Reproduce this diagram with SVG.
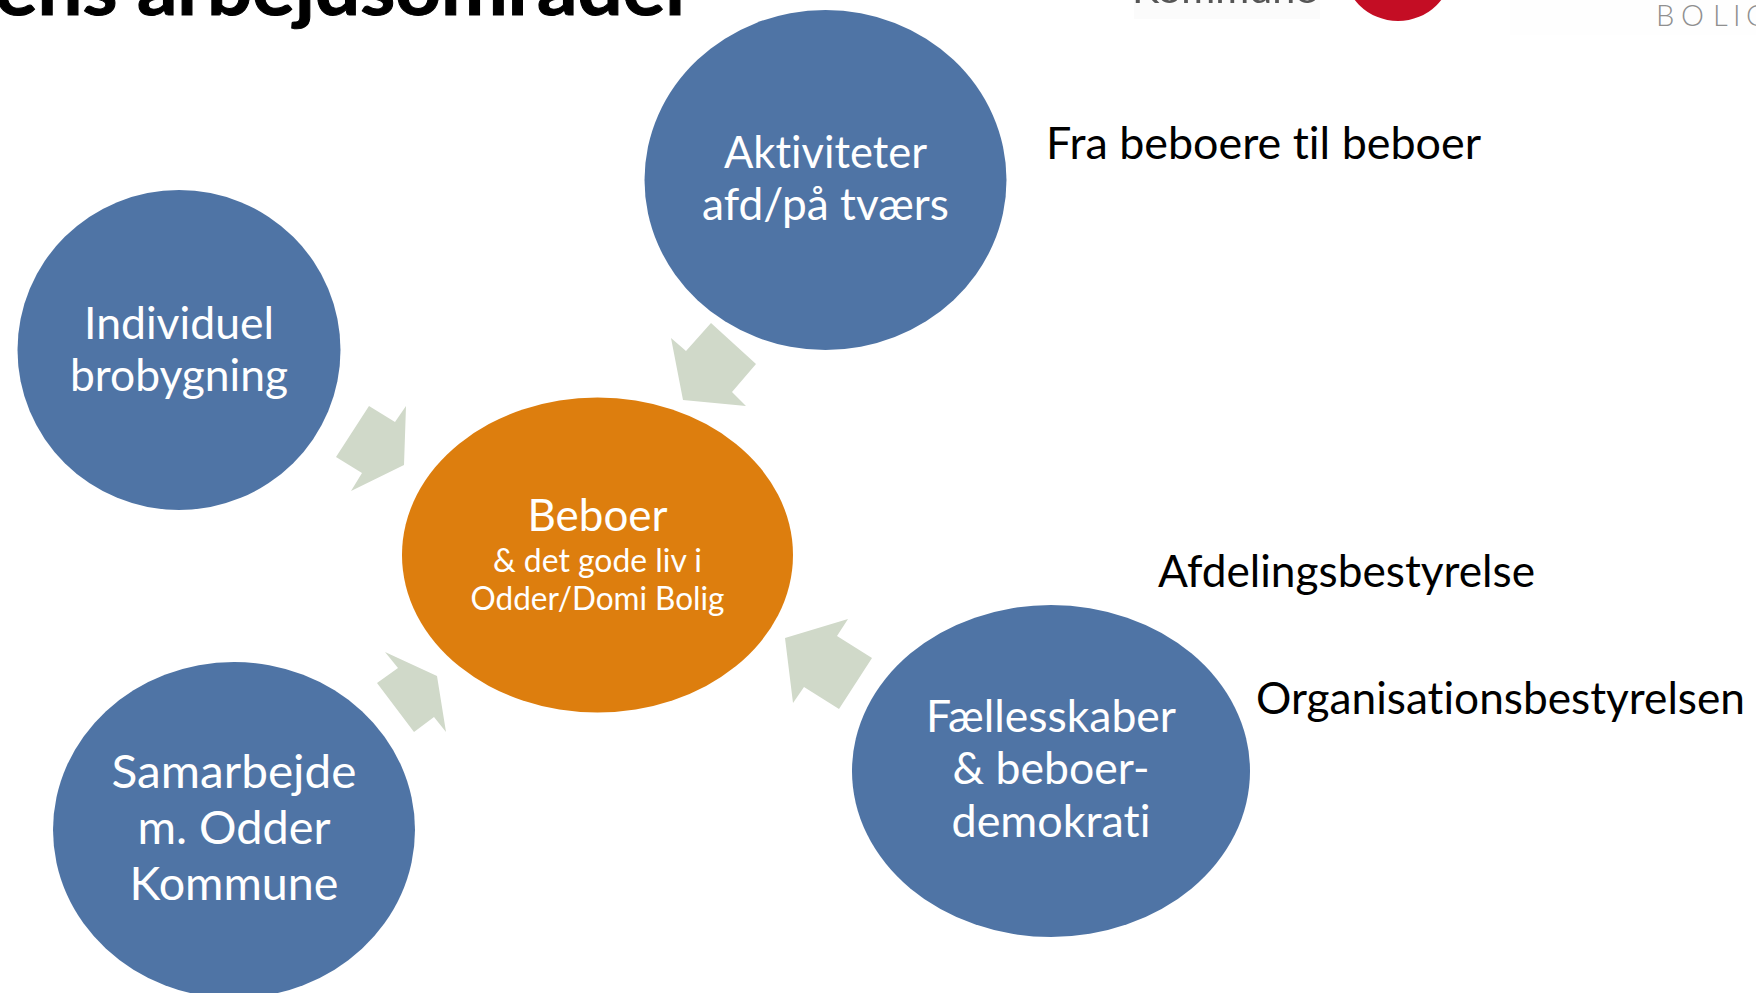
<svg xmlns="http://www.w3.org/2000/svg" width="1756" height="993" viewBox="0 0 1756 993">
<defs><filter id="soft" x="-5%" y="-50%" width="110%" height="200%"><feGaussianBlur stdDeviation="0.7"/></filter></defs>
<style>
text{font-family:"Lato","Liberation Sans",sans-serif;font-variant-ligatures:none}
.b{fill:#4f74a5}
.o{fill:#dd7e0e}
.a{fill:#d0d9c9}
.w{fill:#fff;font-size:44px;text-anchor:middle}
.l{fill:#fff;font-size:47px;text-anchor:middle}
.s{fill:#fff;font-size:32px;text-anchor:middle}
.k{fill:#000;font-size:44px}
</style>
<rect width="1756" height="993" fill="#fff"/>
<text x="-5" y="15" font-size="75" font-weight="700" fill="#000" stroke="#000" stroke-width="1" textLength="700" lengthAdjust="spacingAndGlyphs">ens arbejdsområder</text>
<g id="logos">
<rect x="1134" y="0" width="186" height="19" fill="#fbfbfb" filter="url(#soft)"/>
<text x="1132" y="3" font-size="36" fill="#555" textLength="185" lengthAdjust="spacingAndGlyphs" filter="url(#soft)">Kommune</text>
<circle cx="1398" cy="-34" r="55" fill="#c40d24"/>
<rect x="1510" y="0" width="246" height="35" fill="#fefefe"/>
<text y="26" font-size="29" font-weight="300" fill="#8f8f8f" x="1656 1681 1713 1733 1746">BOLIG</text>
</g>
<g id="connectors">
<polygon class="a" points="671,338 686,351 711,323 756,364 732,392 746,406 683,400"/>
<polygon class="a" points="369,406 395,422 406,406 404,465 351,491 362,473 336,457"/>
<polygon class="a" points="385,652 437,676 446,732 434,717 414,732 377,683 398,668"/>
<polygon class="a" points="785,638 848,619 837,636 872,658 839,709 804,687 793,703"/>
</g>
<g id="node-aktiviteter"><ellipse class="b" cx="825.5" cy="180" rx="181" ry="170"/>
<text class="w" x="825.5" y="168" textLength="203" lengthAdjust="spacingAndGlyphs">Aktiviteter</text><text class="w" x="825.5" y="220" textLength="247" lengthAdjust="spacingAndGlyphs">afd/på tværs</text></g>
<g id="node-individuel"><ellipse class="b" cx="179" cy="350" rx="161.5" ry="160"/>
<text class="w" x="179" y="339" textLength="190" lengthAdjust="spacingAndGlyphs">Individuel</text><text class="w" x="179" y="391" textLength="218" lengthAdjust="spacingAndGlyphs">brobygning</text></g>
<g id="node-samarbejde"><ellipse class="b" cx="234" cy="830" rx="181" ry="168"/>
<text class="l" x="234" y="788" textLength="245" lengthAdjust="spacingAndGlyphs">Samarbejde</text><text class="l" x="234" y="844" textLength="193" lengthAdjust="spacingAndGlyphs">m. Odder</text><text class="l" x="234" y="900" textLength="209" lengthAdjust="spacingAndGlyphs">Kommune</text></g>
<g id="node-faelles"><ellipse class="b" cx="1051" cy="771" rx="199" ry="166"/>
<text class="w" x="1051" y="732" textLength="250" lengthAdjust="spacingAndGlyphs">Fællesskaber</text><text class="w" x="1051" y="784" textLength="197" lengthAdjust="spacingAndGlyphs">&amp; beboer-</text><text class="w" x="1051" y="837" textLength="199" lengthAdjust="spacingAndGlyphs">demokrati</text></g>
<g id="node-beboer"><ellipse class="o" cx="597.5" cy="555" rx="195.5" ry="157.5"/>
<text class="w" x="597.5" y="531" textLength="140" lengthAdjust="spacingAndGlyphs">Beboer</text><text class="s" x="597.5" y="572" textLength="209" lengthAdjust="spacingAndGlyphs">&amp; det gode liv i</text><text class="s" x="597.5" y="610" textLength="254" lengthAdjust="spacingAndGlyphs">Odder/Domi Bolig</text></g>
<g id="labels">
<text class="k" x="1046" y="159" textLength="435" lengthAdjust="spacingAndGlyphs">Fra beboere til beboer</text>
<text class="k" x="1158" y="587" textLength="377" lengthAdjust="spacingAndGlyphs">Afdelingsbestyrelse</text>
<text class="k" x="1256" y="714" textLength="489" lengthAdjust="spacingAndGlyphs">Organisationsbestyrelsen</text>
</g>
</svg>
